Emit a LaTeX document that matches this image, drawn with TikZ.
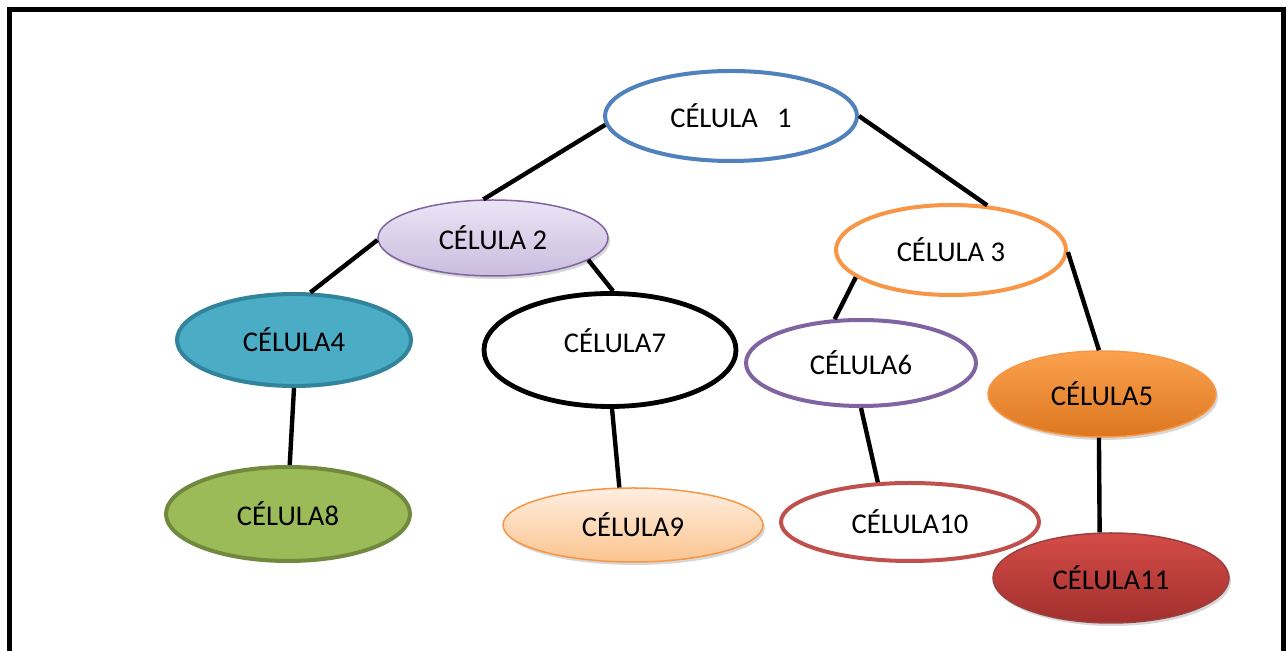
\documentclass[tikz,border=0pt]{standalone}
\usepackage{fontspec}
\setmainfont{Carlito}
\usetikzlibrary{shapes.geometric,shadows}
\definecolor{oblue}{HTML}{4F81BD}
\definecolor{oorange}{HTML}{F79646}
\definecolor{opurple}{HTML}{8064A2}
\definecolor{ored}{HTML}{C0504D}
\definecolor{aquafill}{HTML}{4BACC6}
\definecolor{aquaedge}{HTML}{31849B}
\definecolor{greenfill}{HTML}{9BBB59}
\definecolor{greenedge}{HTML}{71893F}
\definecolor{lavtop}{HTML}{EBE4F5}
\definecolor{lavbot}{HTML}{CABDDF}
\definecolor{ortop}{HTML}{FBA24E}
\definecolor{orbot}{HTML}{DD7720}
\definecolor{peachtop}{HTML}{FEEEE0}
\definecolor{peachbot}{HTML}{FBC48F}
\definecolor{redtop}{HTML}{D44C48}
\definecolor{redbot}{HTML}{A22F2D}
\tikzset{
  cell/.style={ellipse, inner sep=0pt, align=center, text=black,
    font=\fontsize{14.3}{17}\selectfont},
  thickedge/.style={line width=2pt},
  thinedge/.style={line width=0.75pt},
  soft/.style={drop shadow={shadow xshift=1pt, shadow yshift=-1.5pt, opacity=0.22, fill=black!70}},
  link/.style={line width=2.2pt, black},
}
\begin{document}
\begin{tikzpicture}[x=0.5pt, y=-0.5pt]
\useasboundingbox (0,0) rectangle (1287,651);
\fill[white] (0,0) rectangle (1287,651);
% frame
\draw[line width=2.6pt, line join=miter] (9.5,651) -- (9.5,9.5) -- (1283.5,9.5) -- (1283.5,651);

% cells
\node[cell, thickedge, draw=oblue, fill=white, minimum width=252*0.5pt, minimum height=90*0.5pt] (c1) at (731,116) {CÉLULA\ \ \ 1};
\node[cell, thinedge, draw=opurple, top color=lavtop, bottom color=lavbot, soft, minimum width=230*0.5pt, minimum height=76*0.5pt] (c2) at (493,238) {CÉLULA 2};
\node[cell, thickedge, draw=oorange, fill=white, minimum width=230*0.5pt, minimum height=90*0.5pt] (c3) at (951,250) {CÉLULA 3};
\node[cell, thickedge, draw=aquaedge, fill=aquafill, minimum width=234*0.5pt, minimum height=92*0.5pt] (c4) at (294,340) {CÉLULA4};
\node[cell, line width=2.4pt, draw=black, fill=white, minimum width=252*0.5pt, minimum height=113*0.5pt] (c7) at (610,350) {};
\node[cell] (t7) at (615,341) {CÉLULA7};
\node[cell, thickedge, draw=opurple, fill=white, minimum width=230*0.5pt, minimum height=86*0.5pt] (c6) at (861,363) {CÉLULA6};
\node[cell, thinedge, draw=oorange, top color=ortop, bottom color=orbot, soft, minimum width=228*0.5pt, minimum height=86*0.5pt] (c5) at (1102,394) {CÉLULA5};
\node[cell, thickedge, draw=greenedge, fill=greenfill, minimum width=244*0.5pt, minimum height=94*0.5pt] (c8) at (288,514) {CÉLULA8};
\node[cell, thinedge, draw=oorange, top color=peachtop, bottom color=peachbot, soft, minimum width=260*0.5pt, minimum height=74*0.5pt] (c9) at (633,525) {CÉLULA9};
\node[cell, thickedge, draw=ored, fill=white, minimum width=258*0.5pt, minimum height=78*0.5pt] (c10) at (910,522) {CÉLULA10};
\node[cell, thinedge, draw=ored!80!black, top color=redtop, bottom color=redbot, soft, minimum width=236*0.5pt, minimum height=90*0.5pt] (c11) at (1111,578) {CÉLULA11};

% connectors
\draw[link] (c1.184) -- (c2.104);
\draw[link] (c1.0) -- (c3.51);
\draw[link] (c2.181) -- (c4.71);
\draw[link] (c2.-13) -- (c7.87);
\draw[link] (c3.196) -- (c6.121);
\draw[link] (c3.-1) -- (c5.94);
\draw[link] (c4.-90) -- (c8.88);
\draw[link] (c7.-88) -- (c9.110);
\draw[link] (c6.-90) -- (c10.129);
\draw[link] (c5.-94) -- (c11.104);
\end{tikzpicture}
\end{document}
